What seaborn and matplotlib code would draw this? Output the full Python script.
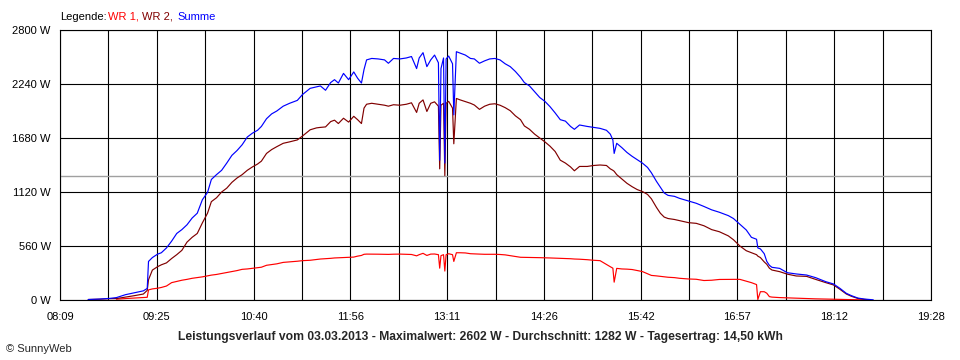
import numpy as np
import pandas as pd
import matplotlib
matplotlib.use("Agg")
import matplotlib.pyplot as plt
import seaborn as sns

zeiten = [
    "08:31", "08:40", "08:48", "08:53", "09:00", "09:07", "09:14", "09:17", "09:18", "09:21",
    "09:25", "09:28", "09:32", "09:36", "09:40", "09:44", "09:48", "09:52", "09:56", "10:00",
    "10:04", "10:07", "10:11", "10:15", "10:19", "10:23", "10:27", "10:31", "10:35", "10:39",
    "10:43", "10:46", "10:50", "10:54", "10:58", "11:03", "11:08", "11:14", "11:18", "11:24",
    "11:29", "11:32", "11:36", "11:40", "11:43", "11:46", "11:50", "11:54", "11:58", "12:01",
    "12:04", "12:06", "12:08", "12:12", "12:17", "12:22", "12:25", "12:29", "12:34", "12:39",
    "12:43", "12:47", "12:49", "12:52", "12:55", "12:58", "13:01", "13:04", "13:05", "13:06",
    "13:08", "13:09", "13:10", "13:12", "13:15", "13:16", "13:18", "13:21", "13:25", "13:29",
    "13:32", "13:36", "13:40", "13:44", "13:48", "13:52", "13:56", "14:00", "14:04", "14:08",
    "14:11", "14:15", "14:19", "14:23", "14:27", "14:31", "14:35", "14:39", "14:43", "14:47",
    "14:50", "14:54", "15:00", "15:05", "15:10", "15:15", "15:18", "15:20", "15:21", "15:23",
    "15:27", "15:31", "15:35", "15:39", "15:43", "15:47", "15:50", "15:54", "15:57", "16:00",
    "16:03", "16:08", "16:12", "16:19", "16:25", "16:31", "16:37", "16:43", "16:50", "16:54",
    "16:59", "17:04", "17:08", "17:12", "17:13", "17:15", "17:18", "17:20", "17:22", "17:24",
    "17:30", "17:36", "17:43", "17:51", "17:58", "18:06", "18:12", "18:17", "18:22", "18:26",
    "18:31", "18:36", "18:40", "18:43",
]

summe = [
    5, 10, 17, 25, 55, 75, 95, 120, 400, 440,
    475, 490, 540, 610, 690, 730, 780, 850, 900, 1040,
    1115, 1250, 1300, 1345, 1420, 1500, 1550, 1610, 1690, 1730,
    1760, 1800, 1880, 1930, 1960, 2010, 2040, 2070, 2130, 2195,
    2210, 2220, 2175, 2255, 2285, 2250, 2350, 2285, 2365, 2300,
    2250, 2390, 2490, 2505, 2500, 2490, 2455, 2505, 2500, 2510,
    2525, 2400, 2510, 2565, 2420, 2490, 2540, 2460, 1450, 2400,
    2510, 1420, 2500, 2530, 2450, 1920, 2575, 2560, 2540, 2505,
    2500, 2455, 2480, 2500, 2505, 2490, 2450, 2420, 2370, 2310,
    2255, 2220, 2160, 2100, 2060, 2005, 1940, 1870, 1855, 1800,
    1770, 1815, 1800, 1790, 1780, 1760, 1720, 1660, 1520, 1625,
    1580, 1530, 1490, 1455, 1420, 1375, 1320, 1230, 1170, 1110,
    1085, 1075, 1054, 1027, 1003, 970, 935, 910, 875, 845,
    785, 726, 650, 630, 540, 530, 480, 400, 360, 339,
    328, 283, 270, 259, 232, 190, 166, 121, 69, 45,
    20, 10, 5, 2,
]

wr2 = [
    5, 8, 14, 15, 30, 45, 62, 100, 210, 310,
    345, 365, 385, 430, 470, 515, 600, 650, 690, 800,
    900, 1020, 1060, 1120, 1160, 1220, 1265, 1300, 1345, 1380,
    1410, 1440, 1520, 1560, 1590, 1625, 1640, 1660, 1700, 1765,
    1785, 1790, 1795, 1850, 1865, 1830, 1885, 1845, 1905, 1870,
    1830, 1990, 2030, 2040, 2030, 2020, 2010, 2025, 2020, 2030,
    2045, 1945, 2040, 2075, 1955, 2040, 2055, 2010, 1360, 2020,
    2040, 1290, 2040, 2060, 1990, 1620, 2090, 2075, 2057, 2040,
    2022, 1977, 2010, 2030, 2035, 2020, 1995, 1963, 1910, 1870,
    1805, 1770, 1720, 1680, 1640, 1595, 1540, 1450, 1420, 1380,
    1340, 1385, 1385, 1395, 1400, 1395, 1360, 1345, 1335, 1300,
    1255, 1210, 1175, 1145, 1125, 1095, 1050, 960, 900, 860,
    845, 835, 823, 802, 795, 770, 730, 708, 665, 625,
    560, 511, 490, 470, 455, 440, 395, 370, 330, 311,
    294, 268, 249, 245, 214, 180, 156, 111, 62, 38,
    16, 6, 2, np.nan,
]

wr1 = [
    np.nan, np.nan, np.nan, 8, 15, 20, 25, 28, 105, 115,
    122, 130, 145, 180, 192, 205, 214, 225, 232, 240,
    250, 258, 265, 275, 285, 295, 305, 318, 322, 328,
    335, 340, 360, 368, 375, 390, 395, 402, 408, 412,
    420, 425, 428, 432, 436, 438, 440, 443, 445, 455,
    462, 474, 476, 476, 475, 474, 473, 475, 476, 474,
    472, 458, 470, 484, 462, 476, 477, 470, 330, 460,
    470, 300, 470, 480, 470, 400, 490, 490, 488, 480,
    478, 476, 474, 474, 474, 472, 468, 460, 452, 443,
    442, 441, 440, 439, 438, 436, 434, 432, 430, 428,
    425, 423, 418, 412, 408, 368, 345, 330, 185, 328,
    322, 320, 316, 305, 295, 272, 255, 250, 245, 240,
    236, 232, 225, 218, 215, 202, 205, 213, 214, 214,
    214, 195, 180, 160, 5, 86, 86, 70, 35, 30,
    25, 22, 18, 15, 12, 10, 8, 6, 5, 4,
    3, 2, 0, np.nan,
]

y_ticks = [0, 560, 1120, 1680, 2240, 2800]
x_labels = ["08:09", "09:25", "10:40", "11:56", "13:11", "14:26", "15:42", "16:57", "18:12", "19:28"]
durchschnitt = 1282

farben = {"WR 1": "#ff0000", "WR 2": "#800000", "Summe": "#0000ff"}

minuten = [int(t[:2]) * 60 + int(t[3:]) for t in zeiten]
df = pd.DataFrame({"Zeit": minuten, "WR 1": wr1, "WR 2": wr2, "Summe": summe})
lang = df.melt(id_vars="Zeit", var_name="Serie", value_name="Leistung").dropna()

sns.set_style("white")
plt.rcParams["font.family"] = ["Liberation Sans", "DejaVu Sans"]

fig = plt.figure(figsize=(9.6, 3.6), dpi=100)
ax = fig.add_axes([60 / 960, 60 / 360, 871 / 960, 270 / 360])

sns.lineplot(
    data=lang,
    x="Zeit",
    y="Leistung",
    hue="Serie",
    hue_order=["WR 1", "WR 2", "Summe"],
    palette=farben,
    estimator=None,
    legend=False,
    linewidth=0.85,
    ax=ax,
)

ax.axhline(durchschnitt, color="#a0a0a0", linewidth=1.0, zorder=1.5)

start = 8 * 60 + 9
ende = 19 * 60 + 28
ax.set_xlim(start, ende)
ax.set_ylim(0, 2800)

xt = np.linspace(start, ende, 19)
ax.set_xticks(xt)
ax.set_xticklabels([x_labels[i // 2] if i % 2 == 0 else "" for i in range(19)])
ax.set_yticks(y_ticks)
ax.set_yticklabels([f"{v} W" for v in y_ticks])

ax.grid(True, color="black", linewidth=0.8)
ax.set_axisbelow(True)
ax.tick_params(direction="out", length=3.6, width=0.8, colors="black", labelsize=8)
ax.tick_params(axis="x", pad=5)
ax.tick_params(axis="y", pad=3)
for s in ax.spines.values():
    s.set_color("black")
    s.set_linewidth(0.8)
ax.set_xlabel("")
ax.set_ylabel("")

# Legende oben links, mehrfarbig
fy = 1 - 16.5 / 360
fig.text(60 / 960, fy, "Legende:", color="black", fontsize=8, va="center")
fig.text(107.5 / 960, fy, "WR 1,", color=farben["WR 1"], fontsize=8, va="center")
fig.text(142 / 960, fy, "WR 2,", color=farben["WR 2"], fontsize=8, va="center")
fig.text(177 / 960, fy, "Summe", color=farben["Summe"], fontsize=8, va="center")

fig.text(
    0.5, 1 - 337 / 360,
    "Leistungsverlauf vom 03.03.2013 - Maximalwert: 2602 W - Durchschnitt: 1282 W - Tagesertrag: 14,50 kWh",
    ha="center", va="center", fontsize=8.7, fontweight="bold",
)
fig.text(6 / 960, 1 - 349 / 360, "© SunnyWeb", fontsize=8, va="center")

fig.savefig("out.png", dpi=100)
